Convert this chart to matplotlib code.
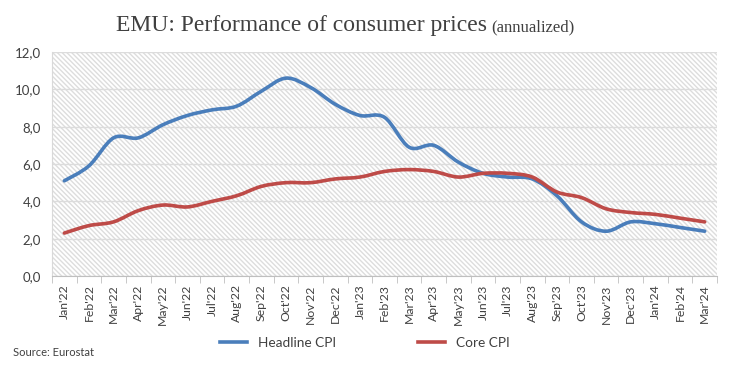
import numpy as np
import matplotlib
matplotlib.use('Agg')
import matplotlib.pyplot as plt
from matplotlib.path import Path
from matplotlib.patches import PathPatch
from matplotlib.lines import Line2D
from matplotlib.ticker import FuncFormatter

# ---------------- data ----------------
months = ["Jan'22", "Feb'22", "Mar'22", "Apr'22", "May'22", "Jun'22", "Jul'22", "Aug'22",
          "Sep'22", "Oct'22", "Nov'22", "Dec'22", "Jan'23", "Feb'23", "Mar'23", "Apr'23",
          "May'23", "Jun'23", "Jul'23", "Aug'23", "Sep'23", "Oct'23", "Nov'23", "Dec'23",
          "Jan'24", "Feb'24", "Mar'24"]
headline = [5.1, 5.9, 7.4, 7.4, 8.1, 8.6, 8.9, 9.1, 9.9, 10.6, 10.1, 9.2, 8.6, 8.5,
            6.9, 7.0, 6.1, 5.5, 5.3, 5.2, 4.3, 2.9, 2.4, 2.9, 2.8, 2.6, 2.4]
core = [2.3, 2.7, 2.9, 3.5, 3.8, 3.7, 4.0, 4.3, 4.8, 5.0, 5.0, 5.2, 5.3, 5.6,
        5.7, 5.6, 5.3, 5.5, 5.5, 5.3, 4.5, 4.2, 3.6, 3.4, 3.3, 3.1, 2.9]

blue = '#4a7ebb'
red = '#be4b48'

plt.rcParams['font.family'] = ['Lato', 'DejaVu Sans']


# smoothed line like excel (catmull-rom -> cubic bezier)
def smooth_path(x, y):
    x = np.asarray(x, float)
    y = np.asarray(y, float)
    verts = [(x[0], y[0])]
    codes = [Path.MOVETO]
    n = len(x)
    for i in range(n - 1):
        p0 = i - 1 if i > 0 else i
        p3 = i + 2 if i + 2 < n else i + 1
        c1 = (x[i] + (x[i + 1] - x[p0]) / 6, y[i] + (y[i + 1] - y[p0]) / 6)
        c2 = (x[i + 1] - (x[p3] - x[i]) / 6, y[i + 1] - (y[p3] - y[i]) / 6)
        verts += [c1, c2, (x[i + 1], y[i + 1])]
        codes += [Path.CURVE4] * 3
    return Path(verts, codes)


fig = plt.figure(figsize=(7.3, 3.74), dpi=100)
ax = fig.add_axes([52 / 730, 1 - 276 / 374, 665 / 730, 224 / 374])

# hatched background
plt.rcParams['hatch.linewidth'] = 0.35
plt.rcParams['hatch.color'] = '#dddddd'
ax.patch.set_facecolor('white')
ax.patch.set_hatch('\\' * 7)
ax.patch.set_edgecolor('#dddddd')
ax.patch.set_linewidth(0)

xs = np.arange(len(months))
for vals, col in [(headline, blue), (core, red)]:
    ax.add_patch(PathPatch(smooth_path(xs, vals), facecolor='none', edgecolor=col,
                           lw=2.6, capstyle='round', zorder=3))

ax.set_xlim(-0.5, len(months) - 0.5)
ax.set_ylim(0, 12)
ax.set_yticks(np.arange(0, 12.1, 2))
ax.yaxis.set_major_formatter(FuncFormatter(lambda v, p: ('%.1f' % v).replace('.', ',')))
ax.grid(axis='y', color='#dcdcdc', lw=1.0)
ax.set_axisbelow(True)

ax.set_xticks(xs)
ax.set_xticklabels(months, rotation=90, fontsize=8.8, color='#404040')
ax.set_xticks(np.arange(-0.5, len(months), 1), minor=True)
ax.tick_params(axis='x', which='major', length=0, pad=6)
ax.tick_params(axis='x', which='minor', length=5, color='#bfbfbf', direction='out')
ax.tick_params(axis='y', length=0, labelsize=9.5, colors='#404040', pad=8)

for s in ['top', 'right']:
    ax.spines[s].set_visible(False)
ax.spines['left'].set_color('#d9d9d9')
ax.spines['bottom'].set_color('#bfbfbf')

# title
fig.text(0.667, 1 - 25 / 374, 'EMU: Performance of consumer prices', ha='right', va='center',
         fontsize=17, family=['Liberation Serif'], color='#404040')
fig.text(0.673, 1 - 27 / 374, '(annualized)', ha='left', va='center',
         fontsize=12, family=['Liberation Serif'], color='#404040')

handles = [Line2D([], [], color=blue, lw=2.6), Line2D([], [], color=red, lw=2.6)]
fig.legend(handles, ['Headline CPI', 'Core CPI'], loc='center', ncol=2,
           bbox_to_anchor=(365 / 730, 1 - 343 / 374), frameon=False, fontsize=9.8,
           handlelength=2.0, handletextpad=0.8, columnspacing=6.0, labelcolor='#404040')

fig.text(13 / 730, 1 - 353 / 374, 'Source: Eurostat', fontsize=8, color='#404040', va='center')

fig.savefig('out.png', dpi=100)
